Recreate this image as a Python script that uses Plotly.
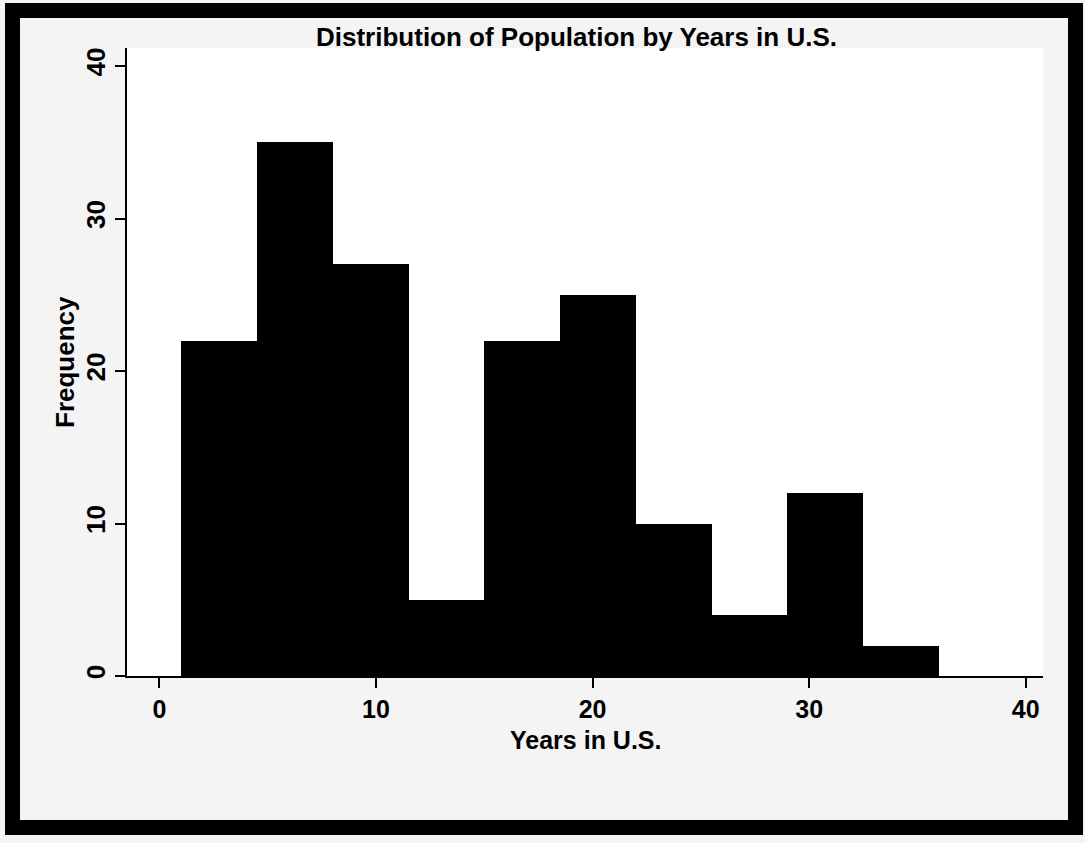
import plotly.graph_objects as go

# ---- data ----
bin_edges = [1, 4.5, 8, 11.5, 15, 18.5, 22, 25.5, 29, 32.5, 36]
frequency = [22, 35, 27, 5, 22, 25, 10, 4, 12, 2]
x_ticks = [0, 10, 20, 30, 40]
y_ticks = [0, 10, 20, 30, 40]

title_text = "Distribution of Population by Years in U.S."
x_title = "Years in U.S."
y_title = "Frequency"

# ---- geometry ----
W, H = 1085, 843
L, R, T, B = 127, 42, 48, 167
PW, PH = W - L - R, H - T - B

def px(p):
    return (p - L) / PW

def py(q):
    return (H - B - q) / PH

centers = [(a + b) / 2 for a, b in zip(bin_edges[:-1], bin_edges[1:])]
widths = [b - a for a, b in zip(bin_edges[:-1], bin_edges[1:])]

FONT = "Liberation Sans, Arial, sans-serif"

fig = go.Figure(
    go.Bar(
        x=centers,
        y=frequency,
        width=widths,
        marker=dict(color="black", line=dict(width=0)),
        hoverinfo="x+y",
    )
)

fig.update_layout(
    width=W,
    height=H,
    margin=dict(l=L, r=R, t=T, b=B, pad=0),
    paper_bgcolor="#f4f4f4",
    plot_bgcolor="white",
    showlegend=False,
    bargap=0,
    font=dict(family=FONT, size=26, color="black"),
)

axis_common = dict(
    showgrid=False,
    zeroline=False,
    showline=True,
    linecolor="black",
    linewidth=2,
    ticks="outside",
    ticklen=10,
    tickwidth=2,
    tickcolor="black",
)

fig.update_xaxes(range=[-1.5, 40.8], tickvals=x_ticks, ticktext=[str(v) for v in x_ticks],
                 tickfont=dict(family=FONT, size=25, color="black", weight="bold"), **axis_common)
fig.update_yaxes(range=[0, 41.18], tickvals=y_ticks, ticktext=[str(v) for v in y_ticks], tickangle=-90,
                 tickfont=dict(family=FONT, size=26, color="black", weight="bold"), **axis_common)

fig.add_annotation(
    text=title_text, xref="paper", yref="paper", x=px(576), y=py(37),
    xanchor="center", yanchor="middle", showarrow=False,
    font=dict(family=FONT, size=26, color="black", weight="bold"),
)
fig.add_annotation(
    text=x_title, xref="paper", yref="paper", x=px(585), y=py(740),
    xanchor="center", yanchor="middle", showarrow=False,
    font=dict(family=FONT, size=25, color="black", weight="bold"),
)
fig.add_annotation(
    text=y_title, xref="paper", yref="paper", x=px(65), y=py(362),
    xanchor="center", yanchor="middle", showarrow=False, textangle=-90,
    font=dict(family=FONT, size=26, color="black", weight="bold"),
)

# outer black frame
fig.add_shape(
    type="rect", xref="paper", yref="paper",
    x0=px(12.5), x1=px(1075.5), y0=py(827.5), y1=py(10.5),
    line=dict(color="black", width=15), fillcolor="rgba(0,0,0,0)", layer="above",
)

fig.write_html(
    "out.html",
    config={"displayModeBar": False},
    post_script="document.body.style.margin='0';document.body.style.overflow='hidden';",
)
